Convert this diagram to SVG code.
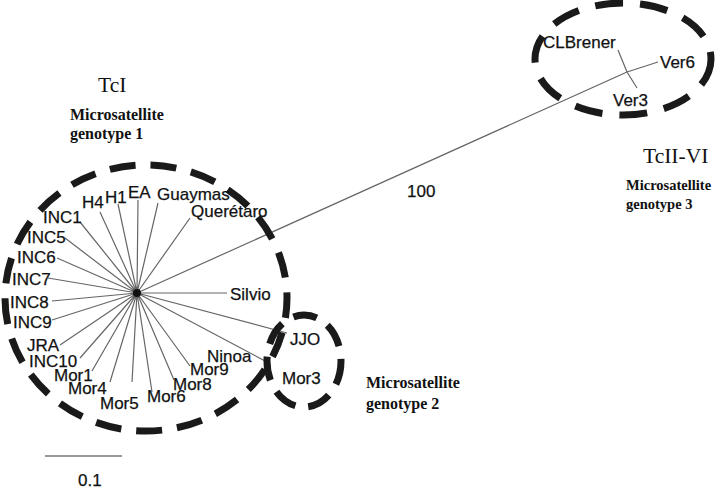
<svg xmlns="http://www.w3.org/2000/svg" width="720" height="490" viewBox="0 0 720 490">
<style>
.lbl{font-family:"Liberation Sans",Arial,sans-serif;font-size:17px;fill:#111;stroke:#111;stroke-width:0.25}
.ttl{font-family:"Liberation Serif","Times New Roman",serif;font-size:21.5px;fill:#111}
.sub{font-family:"Liberation Serif","Times New Roman",serif;font-size:16px;font-weight:bold;fill:#111}
.br{stroke:#666;stroke-width:1.2;fill:none}
.grp{fill:none;stroke:#1a1a1a;stroke-width:7}
</style>
<rect width="720" height="490" fill="#fff"/>
<g id="connectors">
<path class="br" d="M137 293L80 222M137 293L100 212M137 293L118 204M137 293L138 200M137 293L158 203M137 293L190 218M137 293L227 293M137 293L287 333M137 293L267 362M137 293L190 366M137 293L174 380M137 293L152 392M137 293L132 382M137 293L110 382M137 293L92 371M137 293L80 358M137 293L60 345M137 293L52 320M137 293L52 301M137 293L48 278M137 293L57 258M137 293L65 238"/>
<path class="br" d="M137 293L627 72M627 72L618 50M627 72L637 88M627 72L658 62"/>
<circle cx="137" cy="293" r="4" fill="#111"/>
</g>
<g id="cluster-1"><ellipse class="grp" cx="146" cy="298" rx="141" ry="133" stroke-dasharray="26 15" stroke-dashoffset="6"/></g>
<g id="cluster-2"><ellipse class="grp" cx="304" cy="361" rx="37" ry="46" stroke-dasharray="24 13"/></g>
<g id="cluster-3"><ellipse class="grp" cx="623" cy="59" rx="88" ry="56" stroke-dasharray="28 17"/></g>
<g id="n-INC1"><text class="lbl" x="43" y="223">INC1</text></g>
<g id="n-H4"><text class="lbl" x="82" y="208">H4</text></g>
<g id="n-H1"><text class="lbl" x="105" y="203">H1</text></g>
<g id="n-EA"><text class="lbl" x="128" y="198">EA</text></g>
<g id="n-Guaymas"><text class="lbl" x="157" y="200">Guaymas</text></g>
<g id="n-Queretaro"><text class="lbl" x="191" y="217">Querétaro</text></g>
<g id="n-Silvio"><text class="lbl" x="230" y="300">Silvio</text></g>
<g id="n-JJO"><text class="lbl" x="290" y="345">JJO</text></g>
<g id="n-Mor3"><text class="lbl" x="282" y="384">Mor3</text></g>
<g id="n-Ninoa"><text class="lbl" x="207" y="362">Ninoa</text></g>
<g id="n-Mor9"><text class="lbl" x="190" y="375">Mor9</text></g>
<g id="n-Mor8"><text class="lbl" x="173" y="390">Mor8</text></g>
<g id="n-Mor6"><text class="lbl" x="147" y="402">Mor6</text></g>
<g id="n-Mor5"><text class="lbl" x="100" y="409">Mor5</text></g>
<g id="n-Mor4"><text class="lbl" x="68" y="394">Mor4</text></g>
<g id="n-Mor1"><text class="lbl" x="54" y="381">Mor1</text></g>
<g id="n-INC10"><text class="lbl" x="29" y="367">INC10</text></g>
<g id="n-JRA"><text class="lbl" x="27" y="351">JRA</text></g>
<g id="n-INC9"><text class="lbl" x="13" y="328">INC9</text></g>
<g id="n-INC8"><text class="lbl" x="10" y="308">INC8</text></g>
<g id="n-INC7"><text class="lbl" x="12" y="285">INC7</text></g>
<g id="n-INC6"><text class="lbl" x="17" y="263">INC6</text></g>
<g id="n-INC5"><text class="lbl" x="27" y="243">INC5</text></g>
<g id="n-CLBrener"><text class="lbl" x="543" y="48">CLBrener</text></g>
<g id="n-Ver6"><text class="lbl" x="660" y="68">Ver6</text></g>
<g id="n-Ver3"><text class="lbl" x="613" y="106">Ver3</text></g>
<g id="bootstrap"><text class="lbl" x="407" y="197">100</text></g>
<g id="title-TcI">
<text class="ttl" x="98" y="92">TcI</text>
<text class="sub" x="70" y="120">Microsatellite</text>
<text class="sub" x="70" y="139">genotype 1</text>
</g>
<g id="title-TcII-VI">
<text class="ttl" x="643" y="163">TcII-VI</text>
<text class="sub" x="626" y="190" style="font-size:14.5px">Microsatellite</text>
<text class="sub" x="626" y="209" style="font-size:14.5px">genotype 3</text>
</g>
<g id="title-g2">
<text class="sub" x="366" y="388">Microsatellite</text>
<text class="sub" x="366" y="409">genotype 2</text>
</g>
<g id="scale">
<line x1="45" y1="456" x2="122" y2="456" stroke="#777" stroke-width="1.3"/>
<text class="lbl" x="78" y="486">0.1</text>
</g>
</svg>
